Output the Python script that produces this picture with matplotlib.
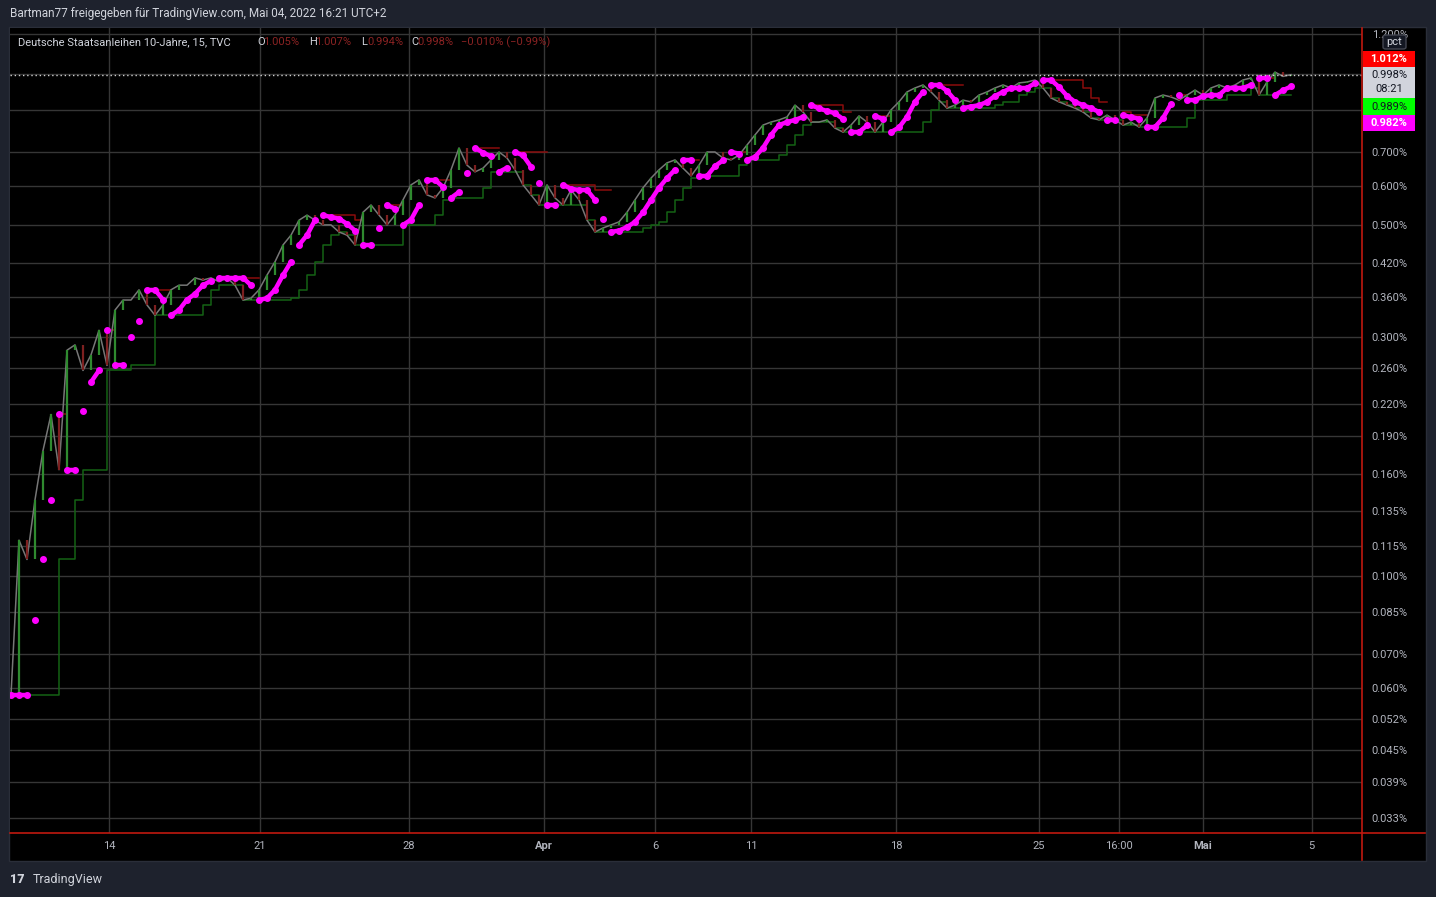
import numpy as np
import pandas as pd
import matplotlib
matplotlib.use('Agg')
from matplotlib import pyplot as plt
from matplotlib.patches import Rectangle, FancyBboxPatch
from matplotlib.lines import Line2D
from matplotlib.collections import LineCollection
from matplotlib.ticker import FixedLocator, NullLocator, FuncFormatter

plt.rcParams['font.family'] = ['Roboto', 'DejaVu Sans']

# 10y Bund yield (%), one sample per bar
close = [
    0.058, 0.118, 0.108, 0.142, 0.178, 0.210, 0.163, 0.282, 0.289, 0.257,
    0.276, 0.309, 0.263, 0.339, 0.355, 0.355, 0.372, 0.347, 0.331, 0.347,
    0.372, 0.380, 0.380, 0.393, 0.389, 0.393, 0.386, 0.393, 0.380, 0.355,
    0.358, 0.372, 0.398, 0.423, 0.457, 0.478, 0.512, 0.524, 0.512, 0.501,
    0.501, 0.485, 0.478, 0.457, 0.531, 0.549, 0.524, 0.501, 0.524, 0.562,
    0.602, 0.616, 0.575, 0.567, 0.594, 0.645, 0.713, 0.659, 0.639, 0.650,
    0.675, 0.700, 0.681, 0.645, 0.602, 0.575, 0.549, 0.602, 0.567, 0.549,
    0.588, 0.562, 0.512, 0.485, 0.494, 0.501, 0.508, 0.531, 0.562, 0.594,
    0.621, 0.645, 0.666, 0.675, 0.650, 0.627, 0.659, 0.700, 0.700, 0.681,
    0.675, 0.690, 0.723, 0.757, 0.792, 0.803, 0.811, 0.822, 0.868, 0.841,
    0.803, 0.803, 0.811, 0.781, 0.767, 0.792, 0.826, 0.803, 0.767, 0.803,
    0.849, 0.881, 0.922, 0.939, 0.952, 0.922, 0.888, 0.856, 0.868, 0.888,
    0.881, 0.909, 0.922, 0.939, 0.952, 0.939, 0.961, 0.965, 0.974, 0.939,
    0.897, 0.881, 0.868, 0.856, 0.841, 0.818, 0.811, 0.829, 0.811, 0.792,
    0.803, 0.785, 0.818, 0.897, 0.909, 0.901, 0.888, 0.909, 0.930, 0.909,
    0.939, 0.952, 0.939, 0.952, 0.974, 0.983, 0.909, 0.965, 1.010, 0.990,
    0.998]

ytick_vals = [1.2, 1.0, 0.85, 0.7, 0.6, 0.5, 0.42, 0.36, 0.3, 0.26, 0.22, 0.19,
              0.16, 0.135, 0.115, 0.1, 0.085, 0.07, 0.06, 0.052, 0.045, 0.039, 0.033]
hidden_ticks = [1.0, 0.85]  # covered by the price tags
xtick_pos = [12.25, 31.1, 49.75, 66.6, 80.5, 92.5, 110.6, 128.5, 138.5, 149.0, 162.6]
xtick_lab = ['14', '21', '28', 'Apr', '6', '11', '18', '25', '16:00', 'Mai', '5']

last_close = 0.998
price_tags = ['1.012%', '0.998%', '0.989%', '0.982%']

W, H = 1436, 897
BG = '#1e222d'
TXT = '#b2b5be'
RED_AX = '#c0190f'
MAG = '#ff00ff'


def fx(px):
    return px / W


def fy(py):
    return 1 - py / H


def psar(hi, lo, af0=0.2, step=0.2, amax=0.8):
    n = len(hi)
    sar = np.zeros(n)
    bull = np.ones(n, dtype=bool)
    up = True
    af = af0
    ep = hi[0]
    sar[0] = lo[0]
    for i in range(1, n):
        s = sar[i - 1] + af * (ep - sar[i - 1])
        if up:
            s = min(s, lo[i - 1])
            if lo[i] < s:
                up = False
                s = ep
                ep = lo[i]
                af = af0
            elif hi[i] > ep:
                ep = hi[i]
                af = min(af + step, amax)
        else:
            s = max(s, hi[i - 1])
            if hi[i] > s:
                up = True
                s = ep
                ep = hi[i]
                af = af0
            elif lo[i] < ep:
                ep = lo[i]
                af = min(af + step, amax)
        sar[i] = s
        bull[i] = up
    return sar, bull


c = np.array(close)
x = np.arange(len(c))
o = np.concatenate([[c[0]], c[:-1]])
hi = np.maximum(o, c)
lo = np.minimum(o, c)
sar, bull = psar(hi, lo)
lower = pd.Series(lo).rolling(5, min_periods=1).min().values
upper = pd.Series(hi).rolling(5, min_periods=1).max().values
upper_dn = np.where(bull, np.nan, upper)

fig = plt.figure(figsize=(14.36, 8.97), dpi=100, facecolor=BG)

# dark panel behind chart + axes strips
fig.add_artist(Rectangle((fx(9), fy(861)), (1426 - 9) / W, (861 - 27) / H,
                         transform=fig.transFigure, fc='black', ec='#2a2e39', lw=1, zorder=0))

ax = fig.add_axes([fx(10), fy(833), (1362 - 10) / W, (833 - 28) / H])
ax.set_facecolor('black')
for s in ax.spines.values():
    s.set_visible(False)

ax.set_yscale('log')
ax.set_ylim(0.0308, 1.2362)
ax.set_xlim(-0.125, 168.875)

ax.yaxis.set_major_locator(FixedLocator(ytick_vals))
ax.yaxis.set_minor_locator(NullLocator())
ax.yaxis.set_major_formatter(FuncFormatter(
    lambda v, p: '' if any(abs(v - h) < 1e-9 for h in hidden_ticks) else f'{v:.3f}%'))
ax.yaxis.tick_right()
ax.tick_params(axis='y', length=0, pad=7, labelsize=8, labelcolor=TXT)
ax.xaxis.set_major_locator(FixedLocator(xtick_pos))
ax.set_xticklabels(xtick_lab)
ax.tick_params(axis='x', length=0, pad=5.5, labelsize=8, labelcolor=TXT)
for t in ax.get_xticklabels():
    if t.get_text() in ('Apr', 'Mai'):
        t.set_fontweight('bold')
ax.grid(True, color='#363636', lw=1)
ax.set_axisbelow(True)

# trailing bands
ax.step(x, lower, where='post', color='#146314', lw=1.1, zorder=2)
ax.step(x, upper_dn, where='post', color='#8b0d0d', lw=1.1, zorder=2)

# bars
cols = np.where(c >= o, '#2f8a2f', '#7d2020')
ax.plot(x, c, color='#777777', lw=1.1, zorder=3)
ax.vlines(x, lo, hi, colors=cols, lw=1.6, zorder=3)

# parabolic SAR: dots, joined into streaks where consecutive dots sit close together
segs = []
for i in range(1, len(x)):
    if bull[i] == bull[i - 1] and abs(np.log10(sar[i] / sar[i - 1])) < 0.03:
        segs.append([(x[i - 1], sar[i - 1]), (x[i], sar[i])])
ax.add_collection(LineCollection(segs, colors=MAG, linewidths=3.2, capstyle='round', zorder=4))
ax.plot(x, sar, ls='none', marker='o', ms=4, color=MAG, mec=MAG, zorder=4)

ax.axhline(last_close, color='#d0d0d0', ls=(0, (1, 2)), lw=1, zorder=5)

# axis lines
fig.add_artist(Line2D([fx(10), fx(1425)], [fy(833), fy(833)], color=RED_AX, lw=1.2))
fig.add_artist(Line2D([fx(1362), fx(1362)], [fy(28), fy(860)], color=RED_AX, lw=1.2))

# price tags on the right scale
tags = [(51, 67, '#ff0000', 'white', 'bold'),
        (67, 98, '#d1d4dc', '#131722', 'normal'),
        (98, 115, '#00ff00', '#131722', 'normal'),
        (115, 131, '#ff00ff', 'white', 'bold')]
for (y0, y1, fc, tc, fw), lab in zip(tags, price_tags):
    fig.add_artist(Rectangle((fx(1363), fy(y1)), 52 / W, (y1 - y0) / H,
                             transform=fig.transFigure, fc=fc, ec='none', zorder=6))
    yc = (y0 + y1) / 2 if lab != '0.998%' else 75
    fig.text(fx(1389), fy(yc), lab, color=tc, fontsize=8, fontweight=fw,
             ha='center', va='center', zorder=7)
fig.text(fx(1389), fy(89), '08:21', color='#131722', fontsize=8, ha='center', va='center', zorder=7)

fig.add_artist(FancyBboxPatch((fx(1383), fy(49)), 23 / W, 14 / H,
                              boxstyle='round,pad=0,rounding_size=0.002',
                              transform=fig.transFigure, fc='#131722', ec='#434651', lw=1, zorder=8))
fig.text(fx(1394.5), fy(42), 'pct', color='#d1d4dc', fontsize=8, ha='center', va='center', zorder=9)

# title and legend
fig.text(fx(10), fy(14), 'Bartman77 freigegeben für TradingView.com, Mai 04, 2022 16:21 UTC+2',
         color='#d1d4dc', fontsize=8.5, va='center')
LEG_RED = '#8b2323'
legend = [('Deutsche Staatsanleihen 10-Jahre, 15, TVC', 18, '#d1d4dc'),
          ('O', 257, '#d1d4dc'), ('1.005%', 263, LEG_RED),
          ('H', 309, '#d1d4dc'), ('1.007%', 315, LEG_RED),
          ('L', 361, '#d1d4dc'), ('0.994%', 367, LEG_RED),
          ('C', 411, '#d1d4dc'), ('0.998%', 417, LEG_RED),
          ('\u22120.010% (\u22120.99%)', 461, LEG_RED)]
for txt, px, col in legend:
    fig.text(fx(px), fy(42), txt, color=col, fontsize=8, va='center')

# footer logo
fig.text(fx(10), fy(879), '17', color='#d1d4dc', fontsize=9, fontweight='heavy', va='center')
fig.text(fx(33), fy(879), 'TradingView', color='#d1d4dc', fontsize=9, va='center')

fig.savefig('out.png', dpi=100, facecolor=BG)
